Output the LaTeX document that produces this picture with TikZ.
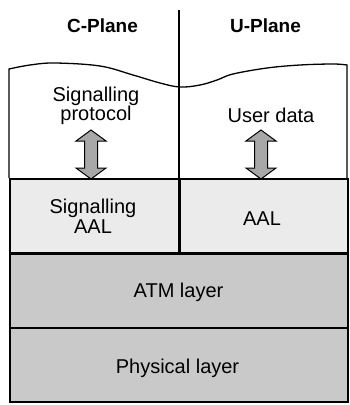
\documentclass[tikz,border=0pt]{standalone}
\usepackage{fontspec}
\setmainfont{Liberation Sans}
\definecolor{aalgray}{gray}{0.92}
\definecolor{layergray}{gray}{0.79}
\definecolor{arrowgray}{gray}{0.66}
\begin{document}
\begin{tikzpicture}[x=1pt,y=-1pt,
  layerbox/.style={draw=black, line width=1.8pt, inner sep=0pt},
  planeline/.style={draw=black, line width=1.3pt},
  lbl/.style={font=\fontsize{20}{19.5}\selectfont, align=center, inner sep=0pt},
  headlbl/.style={font=\fontsize{19}{19}\selectfont\bfseries, inner sep=0pt},
  updown/.style={draw=black, line width=1pt, fill=arrowgray, line join=miter}
]
\useasboundingbox (0,0) rectangle (350,405);

% upper (protocol / user data) region with its wavy top edge
\path[fill=white, planeline] (9,178) -- (9,69)
  -- plot[smooth, tension=0.6] coordinates {(9,69) (30,65) (55,63) (100,66) (133,75)
     (160,83) (180,87) (200,85) (217,80) (233,74) (267,68) (300,65) (333,64) (347,65)}
  -- (347,178);

% plane divider
\coordinate (divtop) at (179,10);
\coordinate (divbot) at (179,178);
\draw[planeline] (divtop) -- (divbot);

% plane headings
\node[headlbl, anchor=base] (cplane) at (102.5,32) {C-Plane};
\node[headlbl, anchor=base] (uplane) at (265.5,32) {U-Plane};

% upper layer texts
\node[lbl] (sigproto) at (96,106) {Signalling\\protocol};
\node[lbl, anchor=base] (userdata) at (271,122) {User data};

% two-headed block arrows between the upper layer and the AAL
\foreach \cx in {91,261}{
  \draw[updown] (\cx,130) -- (\cx+15,141) -- (\cx+6.5,141) -- (\cx+6.5,168)
    -- (\cx+15,168) -- (\cx,179) -- (\cx-15,168) -- (\cx-6.5,168)
    -- (\cx-6.5,141) -- (\cx-15,141) -- cycle;
}

% AAL boxes
\node[layerbox, fill=aalgray, anchor=north west, minimum width=168.8pt, minimum height=74pt] (sigaalbox) at (9,178) {};
\node[layerbox, fill=aalgray, anchor=north west, minimum width=167.8pt, minimum height=74pt] (aalbox) at (179.2,178) {};
\node[lbl] (sigaal) at (93,216) {Signalling\\AAL};
\node[lbl, anchor=base] (aal) at (262,225) {AAL};

% ATM and physical layers
\node[layerbox, fill=layergray, anchor=north west, minimum width=338pt, minimum height=74pt] (atmbox) at (9,253) {};
\node[layerbox, fill=layergray, anchor=north west, minimum width=338pt, minimum height=74pt] (phybox) at (9,327) {};
\node[lbl, anchor=base] (atm) at (178.5,297) {ATM layer};
\node[lbl, anchor=base] (phy) at (177.5,373) {Physical layer};
\end{tikzpicture}
\end{document}
